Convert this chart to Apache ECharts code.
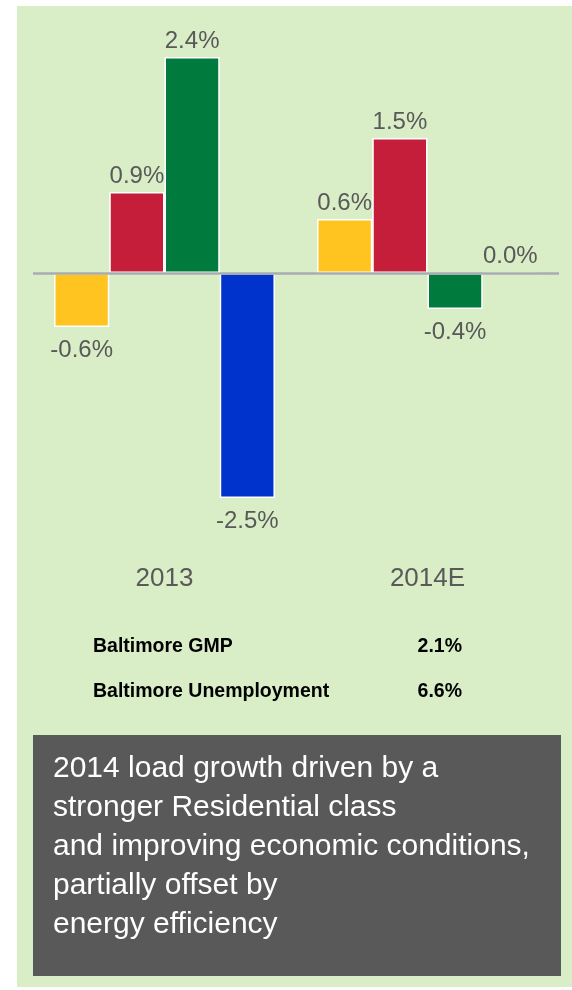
<!DOCTYPE html>
<html>
<head>
<meta charset="utf-8">
<script src="https://cdn.jsdelivr.net/npm/echarts@6/dist/echarts.min.js"></script>
<style>
  html, body { margin: 0; padding: 0; background: #ffffff; }
  #chart { width: 572px; height: 990px; }
</style>
</head>
<body>
<div id="chart"></div>
<script>
// Load growth by customer class, year over year (%)
const categories = ['2013', '2014E'];
const classYellow = [-0.6, 0.6];
const classRed = [0.9, 1.5];
const classGreen = [2.4, -0.4];
const classBlue = [-2.5, 0.0];

// Economic indicators shown below the chart
const indicatorNames = ['Baltimore GMP', 'Baltimore Unemployment'];
const indicatorValues = ['2.1%', '6.6%'];

// Commentary box lines
const noteLines = [
  '2014 load growth driven by a',
  'stronger Residential class',
  'and improving economic conditions,',
  'partially offset by',
  'energy efficiency'
];

const FONT = '"Liberation Sans", Arial, sans-serif';
const LABEL_GRAY = '#595959';

function barSeries(name, data, color, withZeroLine) {
  const s = {
    name: name,
    type: 'bar',
    data: data.map(v => ({
      value: v,
      label: { position: v < 0 ? 'bottom' : 'top', distance: v < 0 ? 11 : 4 }
    })),
    itemStyle: { color: color, borderColor: '#ffffff', borderWidth: 1.5 },
    barGap: '0%',
    barCategoryGap: '16%',
    label: {
      show: true,
      formatter: p => p.value.toFixed(1) + '%',
      fontFamily: FONT,
      fontSize: 24,
      color: LABEL_GRAY
    },
    animation: false
  };
  if (withZeroLine) {
    s.markLine = {
      silent: true,
      symbol: ['none', 'none'],
      label: { show: false },
      lineStyle: { color: '#A7ACB2', width: 2.5, type: 'solid' },
      data: [{ yAxis: 0 }],
      animation: false
    };
  }
  return s;
}

const chart = echarts.init(document.getElementById('chart'), null, { renderer: 'canvas' });

const graphics = [
  // panel background
  { type: 'rect', z: -10, silent: true,
    shape: { x: 17, y: 6, width: 555, height: 981 },
    style: { fill: '#D9EDC6' } },
  // commentary box
  { type: 'rect', z: 5, silent: true,
    shape: { x: 33, y: 735, width: 528, height: 241 },
    style: { fill: '#595959' } },
  { type: 'text', z: 6, silent: true, left: 53, top: 749,
    style: {
      text: noteLines.join('\n'),
      fill: '#ffffff',
      font: '30px ' + FONT,
      lineHeight: 39
    } }
];

indicatorNames.forEach((name, i) => {
  const y = 647 + i * 45;
  graphics.push({
    type: 'text', z: 6, silent: true, x: 93, y: y,
    style: { text: name, fill: '#000000', font: 'bold 19.5px ' + FONT,
             textAlign: 'left', textVerticalAlign: 'middle' }
  });
  graphics.push({
    type: 'text', z: 6, silent: true, x: 462, y: y,
    style: { text: indicatorValues[i], fill: '#000000', font: 'bold 19.5px ' + FONT,
             textAlign: 'right', textVerticalAlign: 'middle' }
  });
});

chart.setOption({
  backgroundColor: 'transparent',
  animation: false,
  grid: { left: 33, right: 13, top: 21, height: 540, containLabel: false },
  xAxis: {
    type: 'category',
    data: categories,
    axisLine: { show: false, onZero: false },
    axisTick: { show: false },
    axisLabel: { fontFamily: FONT, fontSize: 26, color: LABEL_GRAY, margin: 5 }
  },
  yAxis: {
    type: 'value',
    min: -3.2,
    max: 2.8,
    show: false,
    splitLine: { show: false }
  },
  graphic: graphics,
  series: [
    barSeries('Yellow class', classYellow, '#FFC420', true),
    barSeries('Red class', classRed, '#C41E3A', false),
    barSeries('Green class', classGreen, '#007A3D', false),
    barSeries('Blue class', classBlue, '#0033CC', false)
  ]
});
</script>
</body>
</html>
